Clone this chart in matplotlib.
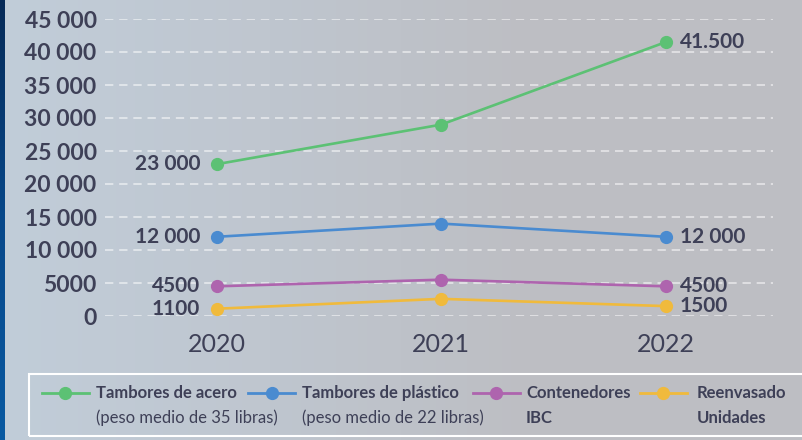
import numpy as np
import matplotlib.pyplot as plt
from matplotlib.lines import Line2D
from matplotlib.patches import Rectangle
from matplotlib.colors import LinearSegmentedColormap

plt.rcParams['font.family'] = ['Lato', 'DejaVu Sans']

years = [2020, 2021, 2022]
acero = [23000, 29000, 41500]
plastico = [12000, 14000, 12000]
ibc = [4500, 5500, 4500]
reenvasado = [1100, 2600, 1500]

yticks = [0, 5000, 10000, 15000, 20000, 25000, 30000, 35000, 40000, 45000]
ytick_labels = ['0', '5000', '10 000', '15 000', '20 000', '25 000',
                '30 000', '35 000', '40 000', '45 000']

left_labels = ['23 000', '12 000', '4500', '1100']
right_labels = ['41.500', '12 000', '4500', '1500']

titles = ['Tambores de acero', 'Tambores de plástico', 'Contenedores', 'Reenvasado']
subtitles = ['(peso medio de 35 libras)', '(peso medio de 22 libras)', 'IBC', 'Unidades']
sub_bold = [False, False, True, True]

colors = ['#5cc174', '#4a8bd0', '#ae64ae', '#f0ba3c']
txt = '#3e4057'

fig = plt.figure(figsize=(8.03, 4.40), dpi=100)

# background
bg = fig.add_axes([0, 0, 1, 1], zorder=-10)
cmap = LinearSegmentedColormap.from_list('bg', ['#c1cdd9', '#bfc6cf', '#bdbec3', '#bebfc4'])
grad = np.tile(np.linspace(0, 1, 256), (2, 1))
bg.imshow(grad, aspect='auto', cmap=cmap, extent=[0, 1, 0, 1])
strip = LinearSegmentedColormap.from_list('strip', ['#0a5aa2', '#08488a', '#062a57'])
sgrad = np.linspace(1, 0, 256).reshape(-1, 1)
bg.imshow(sgrad, aspect='auto', cmap=strip, extent=[0, 5 / 803, 0, 1])
bg.set_xlim(0, 1)
bg.set_ylim(0, 1)
bg.axis('off')

ax = fig.add_axes([105 / 803, 124 / 440, 668 / 803, 297 / 440])
ax.patch.set_alpha(0)
for s in ax.spines.values():
    s.set_visible(False)

ax.set_ylim(0, 45000)
ax.set_xlim(2019.5025, 2022.478)
ax.set_yticks(yticks)
ax.set_yticklabels(ytick_labels, fontsize=16.5, fontweight='bold', color=txt)
ax.set_xticks(years)
ax.set_xticklabels([str(y) for y in years], fontsize=18, color=txt)
ax.tick_params(axis='y', length=0, pad=6)
ax.tick_params(axis='x', length=0, pad=12)
ax.yaxis.grid(True, color='white', alpha=0.6, linestyle=(0, (5, 3.5)), linewidth=1.2)
ax.set_axisbelow(True)

series = [acero, plastico, ibc, reenvasado]
for vals, c, ll, rl in zip(series, colors, left_labels, right_labels):
    ax.plot(years, vals, color=c, linewidth=1.9, marker='o', markersize=8.5, clip_on=False)
    ax.annotate(ll, (years[0], vals[0]), xytext=(-12, 0), textcoords='offset points',
                ha='right', va='center', fontsize=15, fontweight='bold', color=txt)
    ax.annotate(rl, (years[-1], vals[-1]), xytext=(10, 0), textcoords='offset points',
                ha='left', va='center', fontsize=15, fontweight='bold', color=txt)

# legend
fig.patches.append(Rectangle((29 / 803, 4 / 440), 790 / 803, 62 / 440, transform=fig.transFigure,
                             facecolor='none', edgecolor='white', linewidth=1.5))
line_x = [42, 248, 473, 640]
text_x = [96, 302, 526, 697]
for i in range(4):
    x0 = line_x[i] / 803
    x1 = (line_x[i] + 47) / 803
    yy = (440 - 393) / 440
    fig.lines.append(Line2D([x0, x1], [yy, yy], color=colors[i], linewidth=2,
                            transform=fig.transFigure))
    fig.lines.append(Line2D([(x0 + x1) / 2], [yy], color=colors[i], marker='o', markersize=8.5,
                            transform=fig.transFigure))
    fig.text(text_x[i] / 803, yy, titles[i], ha='left', va='center', fontsize=12,
             fontweight='bold', color=txt)
    fig.text(text_x[i] / 803, (440 - 418) / 440, subtitles[i], ha='left', va='center', fontsize=12,
             fontweight='bold' if sub_bold[i] else 'normal', color=txt)

fig.savefig('out.png', dpi=100)
